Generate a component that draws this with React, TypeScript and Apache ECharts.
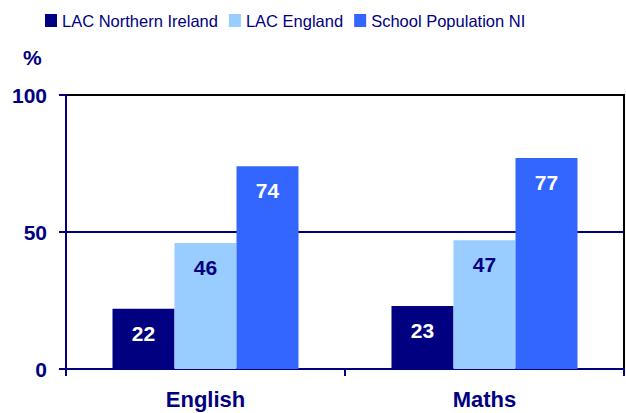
import React, { useEffect, useRef } from "react";
import * as echarts from "echarts";

const categories = ["English", "Maths"];
const lacNI = [22, 23];
const lacEngland = [46, 47];
const schoolNI = [74, 77];
const yTicks = [0, 50, 100];

const NAVY = "#000080";
const FONT = "Liberation Sans, Arial, sans-serif";

export default function App() {
  const ref = useRef<HTMLDivElement>(null);
  useEffect(() => {
    const chart = echarts.init(ref.current!, null, { renderer: "svg" });
    const label = (color: string) => ({
      show: true,
      position: "insideTop" as const,
      distance: 14,
      color,
      fontFamily: FONT,
      fontWeight: "bold" as const,
      fontSize: 21,
    });
    chart.setOption({
      animation: false,
      backgroundColor: "#fff",
      textStyle: { fontFamily: FONT },
      legend: {
        left: 40,
        top: 7,
        itemWidth: 12,
        itemHeight: 13,
        itemGap: 11,
        icon: "rect",
        textStyle: { color: NAVY, fontSize: 16.5, fontFamily: FONT },
        data: ["LAC Northern Ireland", "LAC England", "School Population NI"],
      },
      graphic: [
        {
          type: "text",
          left: 23,
          top: 47,
          style: { text: "%", fill: NAVY, font: `bold 21px ${FONT}` },
        },
      ],
      grid: {
        left: 66,
        right: 2,
        top: 95,
        bottom: 44,
        show: true,
        borderColor: "#000",
        borderWidth: 2,
      },
      xAxis: {
        type: "category",
        data: categories,
        axisLine: { lineStyle: { color: NAVY, width: 2 } },
        axisTick: { show: true, length: 7, lineStyle: { color: NAVY, width: 2 } },
        axisLabel: {
          color: NAVY,
          fontWeight: "bold",
          fontSize: 22,
          fontFamily: FONT,
          margin: 19,
        },
      },
      yAxis: {
        type: "value",
        min: yTicks[0],
        max: yTicks[yTicks.length - 1],
        interval: 50,
        axisLine: { show: true, lineStyle: { color: NAVY, width: 2 } },
        axisTick: { show: true, length: 7, lineStyle: { color: NAVY, width: 2 } },
        splitLine: { show: true, showMinLine: false, showMaxLine: false, lineStyle: { color: NAVY, width: 2 } },
        axisLabel: {
          color: NAVY,
          fontWeight: "bold",
          fontSize: 21,
          fontFamily: FONT,
          margin: 19,
        },
      },
      series: [
        {
          name: "LAC Northern Ireland",
          type: "bar",
          data: lacNI,
          barWidth: 62,
          barGap: "0%",
          itemStyle: { color: NAVY },
          label: label("#fff"),
        },
        {
          name: "LAC England",
          type: "bar",
          data: lacEngland,
          barWidth: 62,
          barGap: "0%",
          itemStyle: { color: "#99CCFF" },
          label: label(NAVY),
        },
        {
          name: "School Population NI",
          type: "bar",
          data: schoolNI,
          barWidth: 62,
          barGap: "0%",
          itemStyle: { color: "#3366FF" },
          label: label("#fff"),
        },
      ],
    });
    return () => chart.dispose();
  }, []);
  return <div ref={ref} style={{ width: 626, height: 413, position: "absolute", left: 0, top: 0 }} />;
}
